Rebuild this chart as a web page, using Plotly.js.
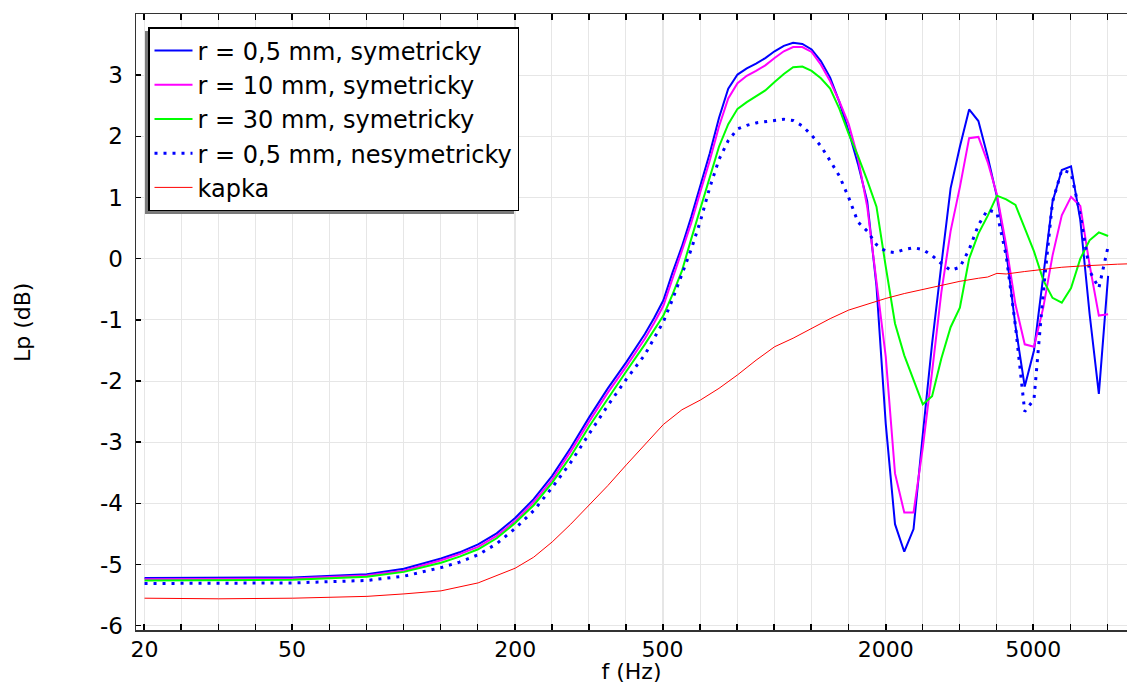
<!DOCTYPE html>
<html><head><meta charset="utf-8">
<script src="https://cdn.plot.ly/plotly-3.0.1.min.js"></script>
<style>html,body{margin:0;padding:0;background:#fff;}#chart{width:1127px;height:684px;}</style>
</head><body><div id="chart"></div>
<script>
// Frequencies (Hz) shared by the four simulated series
const freq = [20, 31.7, 50.2, 79.6, 100.2, 126.2, 141.6, 158.9, 178.3, 200, 224.4, 251.8, 282.5, 317, 355.7, 399.1, 447.7,
  474.3, 502.4, 532.2, 563.7, 597.1, 632.5, 669.9, 709.6, 751.7, 796.2,
  843.4, 893.4, 946.3, 1002.4, 1061.8, 1124.7, 1191.3, 1261.9, 1336.7, 1415.9,
  1499.8, 1588.7, 1682.8, 1782.5, 1888.1, 2000, 2118.5, 2244, 2377, 2517.9,
  2667.1, 2825.1, 2992.5, 3169.8, 3357.6, 3556.6, 3767.3, 3990.5, 4227, 4477.5,
  4742.8, 5023.8, 5321.5, 5636.8, 5970.8, 6324.6, 6699.3, 7096.3, 7516.8, 7962.1];

const symR05 = [-5.22,-5.22,-5.21,-5.16,-5.07,-4.9,-4.8,-4.67,-4.49,-4.24,-3.93,-3.55,-3.09,-2.59,-2.12,-1.69,-1.23,
  -0.97,-0.68,-0.22,0.2,0.68,1.2,1.72,2.3,2.78,3.01,
  3.11,3.19,3.28,3.39,3.48,3.53,3.51,3.42,3.23,2.96,
  2.56,2.08,1.55,0.94,-0.45,-2.7,-4.34,-4.79,-4.42,-2.87,
  -1.39,-0.1,1.15,1.83,2.44,2.25,1.67,1.01,0.12,-1.1,
  -2.09,-1.5,-0.3,0.93,1.45,1.51,0.63,-0.9,-2.21,-0.28];

const symR10 = [-5.24,-5.24,-5.23,-5.18,-5.1,-4.93,-4.83,-4.71,-4.53,-4.29,-3.98,-3.61,-3.15,-2.66,-2.19,-1.76,-1.31,
  -1.05,-0.77,-0.32,0.12,0.58,1.1,1.6,2.16,2.62,2.87,
  2.99,3.07,3.16,3.28,3.39,3.46,3.46,3.38,3.17,2.9,
  2.57,2.2,1.65,0.85,-0.35,-1.6,-3.51,-4.15,-4.15,-3.09,
  -1.85,-0.55,0.45,1.17,1.97,1.99,1.58,1.05,0.22,-0.75,
  -1.4,-1.44,-0.8,0.05,0.71,1.01,0.86,-0.1,-0.93,-0.91];

const symR30 = [-5.26,-5.26,-5.25,-5.2,-5.12,-4.97,-4.87,-4.75,-4.57,-4.32,-4.03,-3.66,-3.23,-2.74,-2.28,-1.84,-1.4,
  -1.17,-0.93,-0.58,-0.2,0.32,0.82,1.3,1.83,2.2,2.45,
  2.56,2.65,2.75,2.89,3.02,3.13,3.14,3.07,2.95,2.78,
  2.45,2.04,1.68,1.28,0.85,-0.13,-1.06,-1.58,-1.99,-2.38,
  -2.25,-1.63,-1.12,-0.8,0.0,0.41,0.7,1.03,0.97,0.88,
  0.5,0.12,-0.35,-0.64,-0.72,-0.48,0.0,0.3,0.43,0.37];

const nesymR05 = [-5.31,-5.31,-5.3,-5.26,-5.19,-5.05,-4.96,-4.84,-4.66,-4.41,-4.12,-3.74,-3.33,-2.86,-2.4,-1.97,-1.57,
  -1.3,-1.03,-0.66,-0.26,0.15,0.62,1.16,1.62,1.93,2.12,
  2.18,2.22,2.24,2.26,2.28,2.26,2.17,2.02,1.84,1.6,
  1.35,1.0,0.6,0.45,0.23,0.12,0.1,0.15,0.18,0.15,
  0.05,-0.08,-0.19,-0.14,0.15,0.55,0.8,0.75,0.05,-1.1,
  -2.5,-2.3,-0.55,0.93,1.45,1.4,0.72,-0.2,-0.48,0.2];

// "kapka" series on its own frequency list
const kapkaFreq = [20, 31.7, 50.2, 79.6, 100.2, 126.2, 158.9, 200, 224.4, 251.8, 282.5, 317, 355.7, 399.1, 447.7,
  502.4, 563.7, 632.5, 709.6, 796.2, 893.4, 1002.4, 1124.7, 1261.9, 1415.9, 1588.7, 1782.5, 2000,
  2244, 2517.9, 2825.1, 3169.8, 3556.6, 3767.3, 3990.5, 4227, 4742.8, 5321.5, 5970.8, 6699.3, 7516.8, 8434, 9500];
const kapka = [-5.55,-5.56,-5.55,-5.52,-5.48,-5.43,-5.3,-5.06,-4.88,-4.63,-4.34,-4.02,-3.71,-3.37,-3.04,
  -2.71,-2.47,-2.31,-2.12,-1.9,-1.66,-1.44,-1.3,-1.14,-0.98,-0.84,-0.74,-0.65,
  -0.57,-0.5,-0.43,-0.37,-0.32,-0.3,-0.24,-0.25,-0.21,-0.17,-0.14,-0.12,-0.1,-0.09,-0.08];

const seriesNames = ['r = 0,5 mm, symetricky', 'r = 10 mm, symetricky', 'r = 30 mm, symetricky',
  'r = 0,5 mm, nesymetricky', 'kapka'];

const xTickVals = [20, 50, 200, 500, 2000, 5000];
const xTickText = ['20', '50', '200', '500', '2000', '5000'];
const yTickVals = [-6, -5, -4, -3, -2, -1, 0, 1, 2, 3];
const yTickText = ['-6', '-5', '-4', '-3', '-2', '-1', '0', '1', '2', '3'];
const xTitle = 'f (Hz)';
const yTitle = 'Lp (dB)';

// minor grid every 0.1 decade
const minorVals = [];
for (let i = 13; i <= 39; i++) minorVals.push(Math.pow(10, i / 10));

const FAM = 'DejaVu Sans, sans-serif';
const GRID = '#e6e6e6';

const traces = [
  {x: freq, y: symR05, name: seriesNames[0], mode: 'lines', line: {color: '#0000ff', width: 2}},
  {x: freq, y: symR10, name: seriesNames[1], mode: 'lines', line: {color: '#ff00ff', width: 2}},
  {x: freq, y: symR30, name: seriesNames[2], mode: 'lines', line: {color: '#00ff00', width: 2}},
  {x: freq, y: nesymR05, name: seriesNames[3], mode: 'lines', line: {color: '#0000ff', width: 3, dash: '3px,6px'}},
  {x: kapkaFreq, y: kapka, name: seriesNames[4], mode: 'lines', line: {color: '#ff0000', width: 1}}
];

const plotL = 136, plotR = 1127, plotT = 14, plotB = 630;
const pw = plotR - plotL, ph = plotB - plotT;
const px2x = p => (p - plotL) / pw;
const py2y = p => 1 - (p - plotT) / ph;

const layout = {
  width: 1127, height: 684,
  margin: {l: plotL, r: 1127 - plotR, t: plotT, b: 684 - plotB, pad: 0},
  paper_bgcolor: '#ffffff', plot_bgcolor: '#ffffff',
  font: {family: FAM, size: 22, color: '#000'},
  showlegend: true,
  legend: {
    x: px2x(148), y: py2y(27), xanchor: 'left', yanchor: 'top',
    bgcolor: '#ffffff', bordercolor: '#000000', borderwidth: 1.5,
    font: {family: FAM, size: 24, color: '#000'},
    itemwidth: 38, tracegroupgap: 0
  },
  shapes: [
    {type: 'rect', xref: 'paper', yref: 'paper', layer: 'above',
     x0: px2x(145), x1: px2x(514), y0: py2y(214), y1: py2y(31),
     fillcolor: '#7a7a7a', line: {width: 0}}
  ],
  annotations: [
    {text: yTitle, xref: 'paper', yref: 'paper', x: px2x(22), y: py2y(323), xanchor: 'center', yanchor: 'middle',
     textangle: -90, showarrow: false, font: {family: FAM, size: 22, color: '#000'}}
  ],
  xaxis: {
    type: 'log', range: [1.278, 3.952], autorange: false,
    tickmode: 'array', tickvals: xTickVals, ticktext: xTickText,
    ticks: 'inside', ticklen: 6, tickwidth: 1.5, tickcolor: '#000',
    showgrid: true, gridcolor: GRID, gridwidth: 1,
    showline: true, linecolor: '#333', linewidth: 1.5, mirror: 'ticks',
    zeroline: false, automargin: false, ticklabelstandoff: -1,
    tickfont: {family: FAM, size: 22, color: '#000'},
    minor: {tickmode: 'array', tickvals: minorVals, ticks: 'inside', ticklen: 6, tickwidth: 1.5, tickcolor: '#000',
            showgrid: true, gridcolor: GRID, gridwidth: 1},
    title: {text: xTitle, standoff: 2, font: {family: FAM, size: 22, color: '#000'}}
  },
  yaxis: {
    range: [-6.07, 4.0], autorange: false,
    tickmode: 'array', tickvals: yTickVals, ticktext: yTickText,
    ticks: 'inside', ticklen: 5, tickwidth: 1.5, tickcolor: '#000',
    showgrid: true, gridcolor: GRID, gridwidth: 1,
    showline: true, linecolor: '#333', linewidth: 1.5, mirror: false,
    zeroline: false, automargin: false, ticklabelstandoff: 7,
    tickfont: {family: FAM, size: 23, color: '#000'}
  }
};

Plotly.newPlot('chart', traces, layout, {displayModeBar: false, staticPlot: true});
</script>
</body></html>
